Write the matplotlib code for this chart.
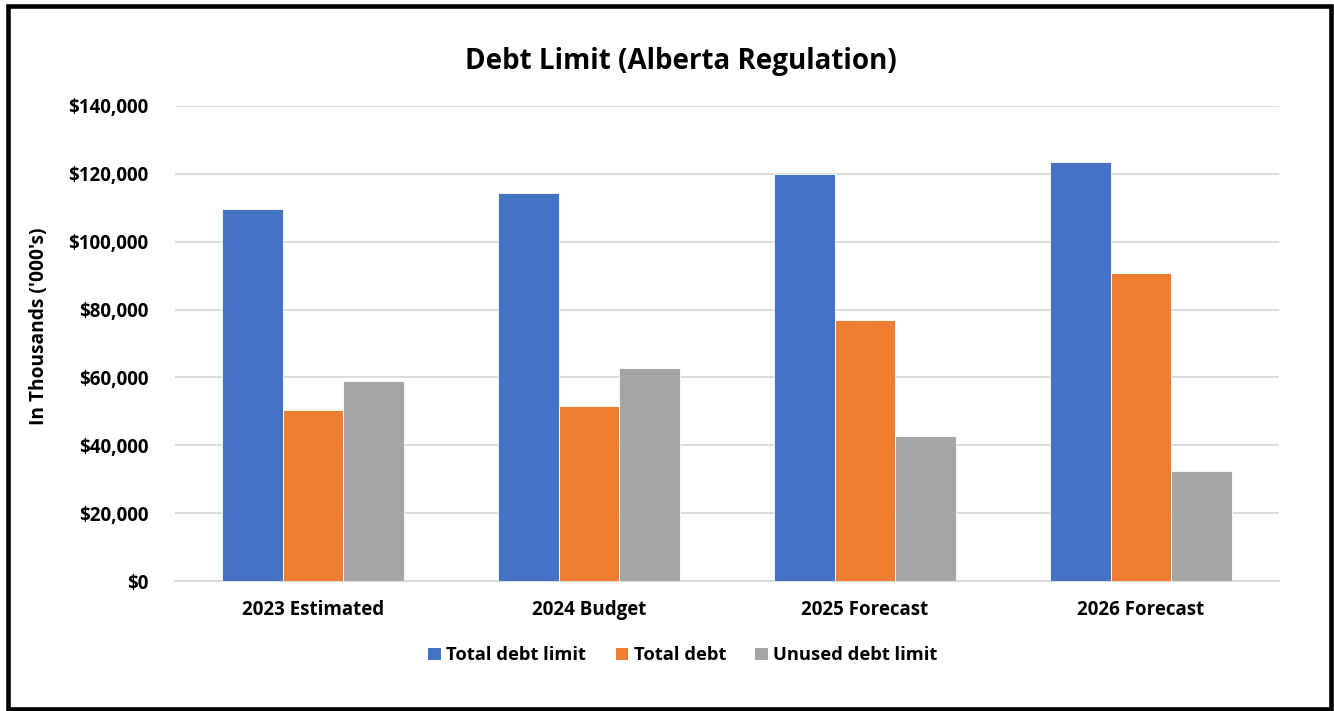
import matplotlib
matplotlib.use("Agg")
import matplotlib.pyplot as plt
from matplotlib.patches import Rectangle, Patch
from matplotlib.ticker import FuncFormatter, MultipleLocator
import numpy as np

categories = ["2023 Estimated", "2024 Budget", "2025 Forecast", "2026 Forecast"]
series_names = ["Total debt limit", "Total debt", "Unused debt limit"]
total_debt_limit = [109600, 114400, 119900, 123400]
total_debt = [50500, 51500, 76800, 90900]
unused_debt_limit = [59000, 62700, 42800, 32400]
colors = ["#4472C4", "#ED7D31", "#A5A5A5"]

W, H = 1334, 711
FONT = "Open Sans"
plt.rcParams["font.family"] = [FONT, "DejaVu Sans"]

fig = plt.figure(figsize=(W / 100, H / 100), dpi=100)
fig.patch.set_facecolor("white")

def px(x0, y0, x1, y1):
    return [x0 / W, 1 - y1 / H, (x1 - x0) / W, (y1 - y0) / H]

ax = fig.add_axes(px(175, 106, 1279, 581))
x = np.arange(len(categories))
bw = 0.221
for i, (vals, col) in enumerate(zip([total_debt_limit, total_debt, unused_debt_limit], colors)):
    ax.bar(x + (i - 1) * bw, vals, width=bw, color=col, edgecolor="white", linewidth=0.6, zorder=3,
           label=series_names[i])

ax.set_xlim(-0.5, len(categories) - 0.5)
ax.set_ylim(0, 140000)
ax.yaxis.set_major_locator(MultipleLocator(20000))
ax.yaxis.set_major_formatter(FuncFormatter(lambda v, p: f"${v:,.0f}"))
ax.set_xticks(x)
ax.set_xticklabels(categories)
ax.grid(axis="y", color="#D9D9D9", linewidth=1.3, zorder=0)
for s in ["top", "right", "left"]:
    ax.spines[s].set_visible(False)
ax.spines["bottom"].set_color("#D9D9D9")
ax.spines["bottom"].set_linewidth(1.3)
ax.tick_params(axis="both", length=0, labelsize=13.5)
ax.tick_params(axis="y", pad=19)
ax.tick_params(axis="x", pad=14)
for lab in ax.get_xticklabels() + ax.get_yticklabels():
    lab.set_fontweight("bold")

fig.text(39 / W, 1 - 326 / H, "In Thousands ('000's)", rotation=90, ha="center", va="center",
         fontsize=13.8, fontweight="bold")
fig.text(681 / W, 1 - 61.5 / H, "Debt Limit (Alberta Regulation)", ha="center", va="center",
         fontsize=20, fontweight="bold")

handles = [Patch(facecolor=c, edgecolor="none") for c in colors]
leg = fig.legend(handles, series_names, loc="center", bbox_to_anchor=(683 / W, 1 - 655.5 / H),
                 ncol=3, frameon=False, handlelength=0.68, handleheight=0.68, handletextpad=0.3,
                 columnspacing=1.6, prop={"family": FONT, "weight": "bold", "size": 13.2})

fig.add_artist(Rectangle((8 / W, 1 - 708.5 / H), (1330.5 - 8) / W, (708.5 - 6) / H,
                         transform=fig.transFigure, fill=False, edgecolor="black", linewidth=3.3))

fig.savefig("out.png", dpi=100)
